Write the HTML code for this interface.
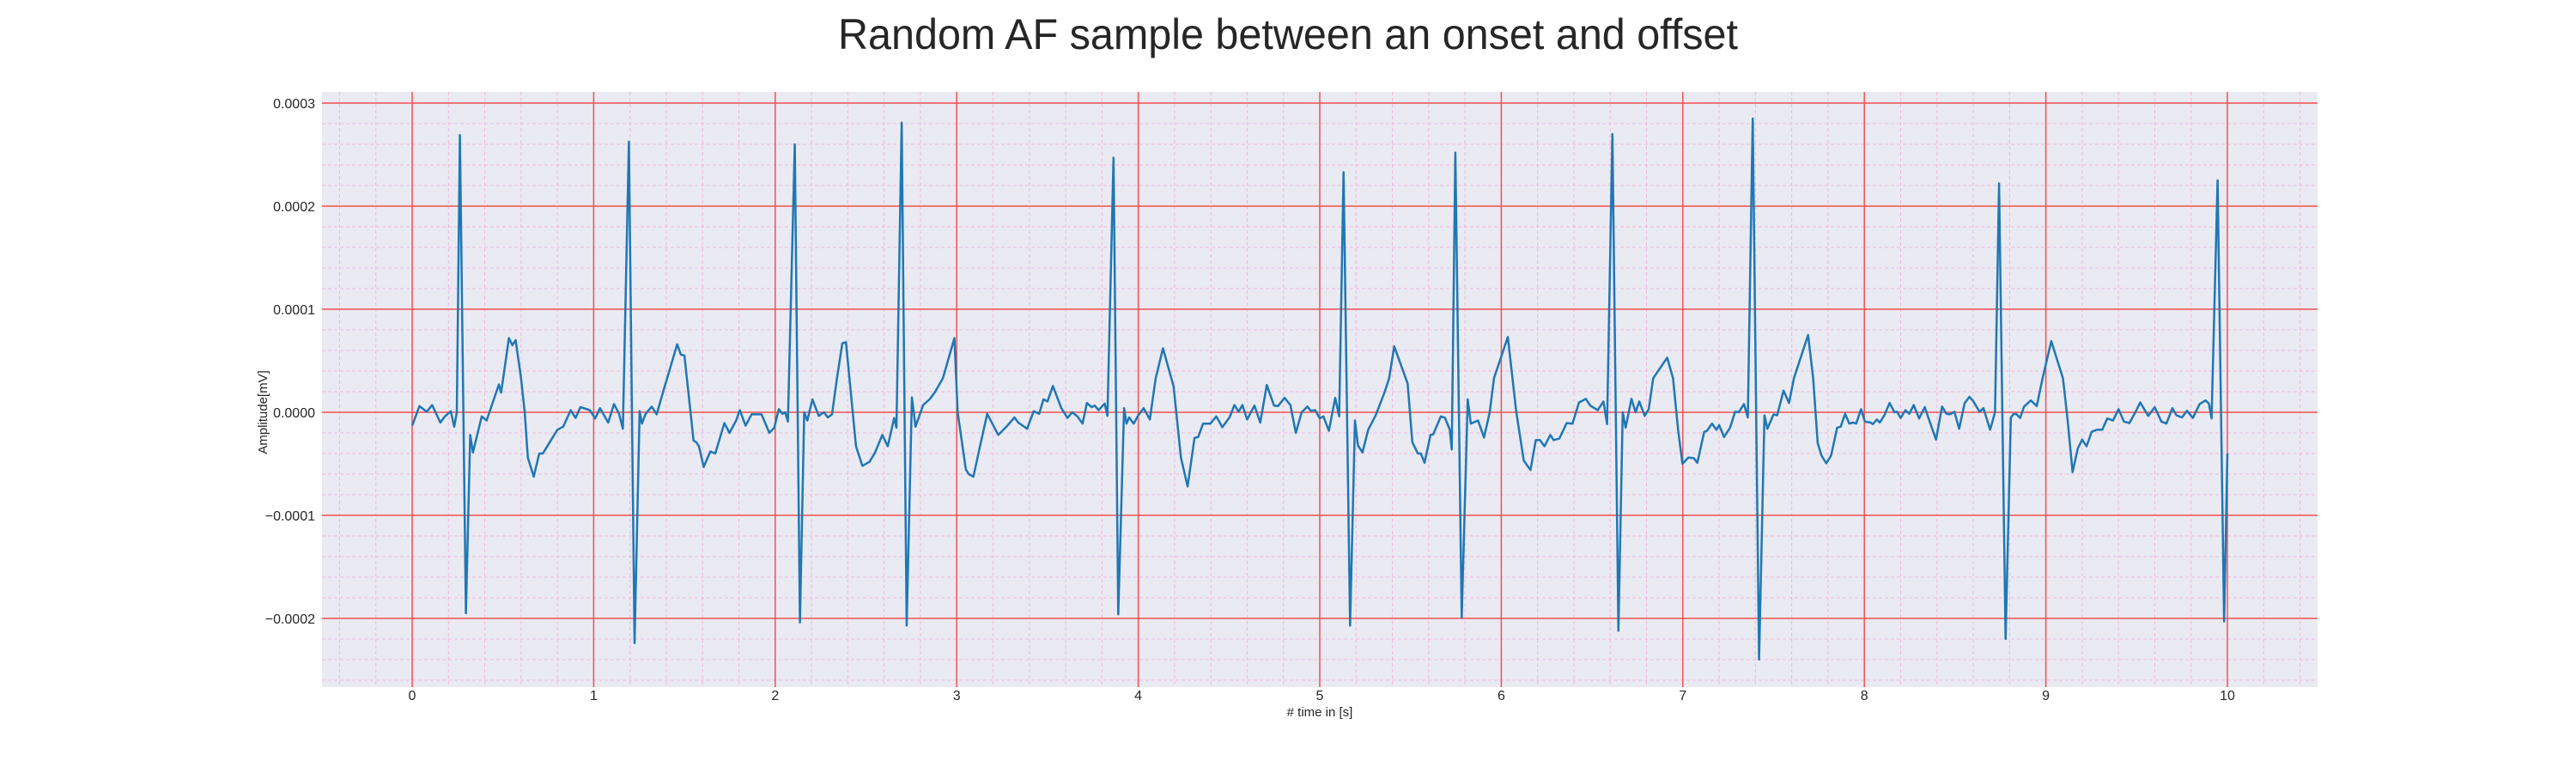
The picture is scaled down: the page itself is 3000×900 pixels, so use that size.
<!DOCTYPE html>
<html>
<head>
<meta charset="utf-8">
<style>
  html,body{margin:0;padding:0;background:#fff;}
  svg{display:block;}
  text{font-family:"Liberation Sans",sans-serif;fill:#262626;}
</style>
</head>
<body>
<svg id="chart" width="3000" height="900" viewBox="0 0 3000 900" xmlns="http://www.w3.org/2000/svg">
  <rect x="0" y="0" width="3000" height="900" fill="#ffffff"/>
  <text x="1500" y="57" text-anchor="middle" font-size="50" textLength="1048" lengthAdjust="spacingAndGlyphs">Random AF sample between an onset and offset</text>
  <rect x="375" y="107" width="2324" height="693" fill="#eaeaf2"/>
  <g id="minor-grid"></g>
  <g id="major-grid"></g>
  <g id="series"></g>
  <g id="ticks"></g>
  <text x="1537" y="834" text-anchor="middle" font-size="15"># time in [s]</text>
  <text x="0" y="0" text-anchor="middle" font-size="15" transform="translate(311,480) rotate(-90)">Amplitude[mV]</text>
</svg>
<script>
// time in seconds
const times = [
0.0,0.04,0.08,0.11,0.155,0.18,0.213,0.232,0.246,0.263,0.296,0.32,0.335,0.383,0.41,0.45,0.478,0.49,0.533,0.552,0.57,0.6,0.62,0.637,0.67,0.70,0.72,0.80,0.832,0.873,0.9,0.927,0.979,1.008,1.035,1.08,1.112,1.14,1.161,1.194,1.225,1.253,1.266,1.286,1.32,1.347,1.386,1.415,1.46,1.48,1.5,1.55,1.565,1.58,1.606,1.643,1.67,1.72,1.748,1.785,1.805,1.837,1.87,1.925,1.968,1.995,2.02,2.04,2.055,2.07,2.108,2.136,2.16,2.177,2.205,2.24,2.268,2.29,2.313,2.34,2.37,2.39,2.445,2.48,2.52,2.55,2.59,2.62,2.655,2.668,2.697,2.724,2.753,2.773,2.815,2.85,2.88,2.924,2.987,3.005,3.05,3.066,3.092,3.128,3.168,3.229,3.274,3.318,3.339,3.388,3.424,3.454,3.478,3.5,3.53,3.576,3.61,3.636,3.665,3.693,3.717,3.743,3.76,3.782,3.815,3.83,3.864,3.89,3.922,3.935,3.95,3.975,4.0,4.03,4.064,4.096,4.136,4.195,4.235,4.272,4.31,4.33,4.357,4.397,4.43,4.463,4.503,4.53,4.553,4.574,4.6,4.64,4.672,4.708,4.748,4.77,4.806,4.838,4.868,4.9,4.932,4.95,4.975,5.0,5.02,5.05,5.085,5.107,5.131,5.167,5.194,5.21,5.235,5.267,5.308,5.357,5.382,5.41,5.484,5.51,5.54,5.557,5.577,5.61,5.625,5.667,5.69,5.716,5.727,5.747,5.782,5.815,5.832,5.872,5.905,5.936,5.96,6.036,6.083,6.124,6.161,6.19,6.213,6.238,6.27,6.288,6.32,6.36,6.392,6.428,6.466,6.49,6.531,6.563,6.583,6.612,6.645,6.669,6.685,6.717,6.74,6.76,6.79,6.812,6.837,6.914,6.946,6.974,6.998,7.03,7.06,7.08,7.118,7.133,7.161,7.185,7.2,7.227,7.26,7.288,7.308,7.337,7.358,7.385,7.42,7.45,7.466,7.5,7.52,7.555,7.585,7.612,7.69,7.718,7.743,7.764,7.79,7.817,7.85,7.87,7.894,7.917,7.938,7.955,7.982,8.003,8.035,8.047,8.069,8.085,8.11,8.139,8.166,8.18,8.2,8.226,8.248,8.272,8.302,8.333,8.362,8.395,8.428,8.452,8.472,8.496,8.522,8.553,8.579,8.599,8.635,8.656,8.693,8.72,8.742,8.778,8.807,8.82,8.836,8.858,8.88,8.917,8.95,8.982,9.03,9.094,9.12,9.147,9.176,9.2,9.224,9.252,9.28,9.311,9.338,9.37,9.4,9.43,9.46,9.493,9.52,9.564,9.6,9.636,9.664,9.697,9.72,9.75,9.777,9.81,9.847,9.88,9.898,9.913,9.946,9.982,10.0
];
// amplitude in units of 1e-5 mV
const ampE5 = [
-1.3,0.6,0.05,0.7,-1,-0.4,0.1,-1.4,0,26.9,-19.5,-2.2,-3.9,-0.4,-0.8,1.25,2.7,1.9,7.2,6.5,7.0,3.3,0,-4.4,-6.25,-4,-4,-1.7,-1.4,0.2,-0.55,0.5,0.2,-0.6,0.4,-1,0.8,-0.15,-1.6,26.25,-22.4,0.1,-1.1,-0.15,0.55,-0.2,2.2,3.9,6.6,5.6,5.5,-2.75,-2.9,-3.3,-5.3,-3.8,-4,-1.05,-2,-0.8,0.2,-1.3,-0.2,-0.2,-2,-1.5,0.3,-0.15,0,-0.9,26.0,-20.4,0,-0.8,1.25,-0.35,0,-0.5,-0.2,3.3,6.7,6.8,-3.3,-5.2,-4.8,-3.9,-2.2,-3.3,-0.55,-1.5,28.1,-20.7,1.45,-1.4,0.7,1.25,1.95,3.3,7.2,0,-5.55,-6,-6.25,-3.3,-0.15,-2.2,-1.4,-0.5,-1,-1.6,0.1,-0.15,1.25,1.05,2.55,0.4,-0.55,0,-0.4,-1.1,0.9,0.5,0.65,0.2,0.85,-0.35,24.7,-19.6,0.4,-1.1,-0.5,-1.1,-0.3,0.4,-0.7,3.3,6.2,2.5,-4.4,-7.2,-2.5,-2.4,-1.1,-1.1,-0.4,-1.45,-0.5,0.7,0.05,0.7,-0.7,0.65,-1,2.65,0.65,0.6,1.4,0.7,-2,0,0.55,0.15,0.2,-0.6,-0.4,-1.8,1.4,-0.4,23.3,-20.7,-0.8,-3.2,-3.9,-1.7,-0.3,1.95,3.3,6.4,2.8,-2.9,-4,-4,-4.9,-2.2,-2.15,-0.4,-0.55,-1.7,-3.6,25.2,-19.9,1.25,-1.1,-0.8,-2.45,0,3.3,7.3,0,-4.7,-5.6,-2.7,-2.7,-3.3,-2.2,-2.7,-2.55,-1.05,-1.1,0.95,1.3,0.65,0.2,1.05,-1.15,27.0,-21.2,0,-1.5,1.3,0,1.05,-0.35,0.3,3.3,5.3,3.3,-1.7,-5,-4.4,-4.45,-4.9,-1.9,-1.8,-1.1,-1.7,-1.25,-2.4,-1.5,0.05,0,0.8,-0.5,28.5,-24,-0.3,-1.6,-0.2,-0.3,2.1,0.9,3.3,7.5,3.3,-3,-4.2,-4.95,-4.2,-1.5,-1.4,-0.15,-1.1,-1,-1.1,0.3,-0.9,-1,-1.15,-0.7,-1,-0.3,0.9,0,0.05,-0.55,0.2,-0.15,0.7,-0.6,0.5,-1,-2.65,0.55,-0.15,-0.2,0.05,-1.6,0.9,1.5,1.1,0.05,0.4,-1.7,0,22.2,-22,-0.55,-0.2,-0.15,-0.55,0.55,1.15,0.6,3.3,6.9,3.3,-0.8,-5.8,-3.5,-2.65,-3.3,-1.9,-1.7,-1.7,-0.6,-0.8,0.3,-0.9,-1.05,0,0.95,-0.35,0.5,-0.9,-1.1,0.4,-0.3,-0.5,0.15,-0.55,0.8,1.15,0.85,-0.6,22.5,-20.3,-4
];
const xTicks = [0,1,2,3,4,5,6,7,8,9,10];
const xTickLabels = ["0","1","2","3","4","5","6","7","8","9","10"];
const yTicks = [-0.0002,-0.0001,0,0.0001,0.0002,0.0003];
const yTickLabels = ["\u22120.0002","\u22120.0001","0.0000","0.0001","0.0002","0.0003"];

const NS = "http://www.w3.org/2000/svg";
const PL = 375, PR = 2699, PT = 107, PB = 800;
const X0 = 480, XS = 211.4, Y0 = 480, YS = 120 / 0.0001;
function xs(t){ return X0 + t * XS; }
function ys(v){ return Y0 - v * YS; }
function mk(tag, attrs, parent){
  const e = document.createElementNS(NS, tag);
  for (const k in attrs) e.setAttribute(k, attrs[k]);
  parent.appendChild(e);
  return e;
}
const gMinor = document.getElementById('minor-grid');
const gMajor = document.getElementById('major-grid');
const gSeries = document.getElementById('series');
const gTicks = document.getElementById('ticks');

// minor grid
for (let i = -2; i <= 52; i++) {
  if (i % 5 === 0) continue;
  const x = xs(i * 0.2);
  if (x < PL || x > PR) continue;
  const l = mk('line', {x1:x, x2:x, y1:PT, y2:PB, stroke:'#f2a2dc', 'stroke-opacity':0.7, 'stroke-width':1, 'stroke-dasharray':'4,3'}, gMinor);
  
  
}
for (let i = -13; i <= 15; i++) {
  if (i % 5 === 0) continue;
  const y = ys(i * 0.00002);
  if (y < PT || y > PB) continue;
  const l = mk('line', {x1:PL, x2:PR, y1:y, y2:y, stroke:'#f2a2dc', 'stroke-opacity':0.7, 'stroke-width':1, 'stroke-dasharray':'4,3'}, gMinor);
  
  
}
// major grid + labels
xTicks.forEach((t, i) => {
  const x = xs(t);
  const l = mk('line', {x1:x, x2:x, y1:PT, y2:PB, stroke:'#f25050', 'stroke-width':1.5}, gMajor);
  
  
  const tx = mk('text', {x:x, y:815, 'text-anchor':'middle', 'font-size':16}, gTicks);
  tx.textContent = xTickLabels[i];
  
  
});
yTicks.forEach((v, i) => {
  const y = ys(v);
  const l = mk('line', {x1:PL, x2:PR, y1:y, y2:y, stroke:'#f25050', 'stroke-width':1.5}, gMajor);
  
  
  const tx = mk('text', {x:367, y:y + 6, 'text-anchor':'end', 'font-size':16}, gTicks);
  tx.textContent = yTickLabels[i];
  
  
});
// series
let d = '';
for (let i = 0; i < times.length; i++) {
  d += (i ? 'L' : 'M') + xs(times[i]).toFixed(1) + ',' + ys(ampE5[i] * 1e-5).toFixed(1);
}
const path = mk('path', {d:d, fill:'none', stroke:'#1f77b4', 'stroke-width':2.5, 'stroke-linejoin':'round'}, gSeries);


</script>
</body>
</html>
